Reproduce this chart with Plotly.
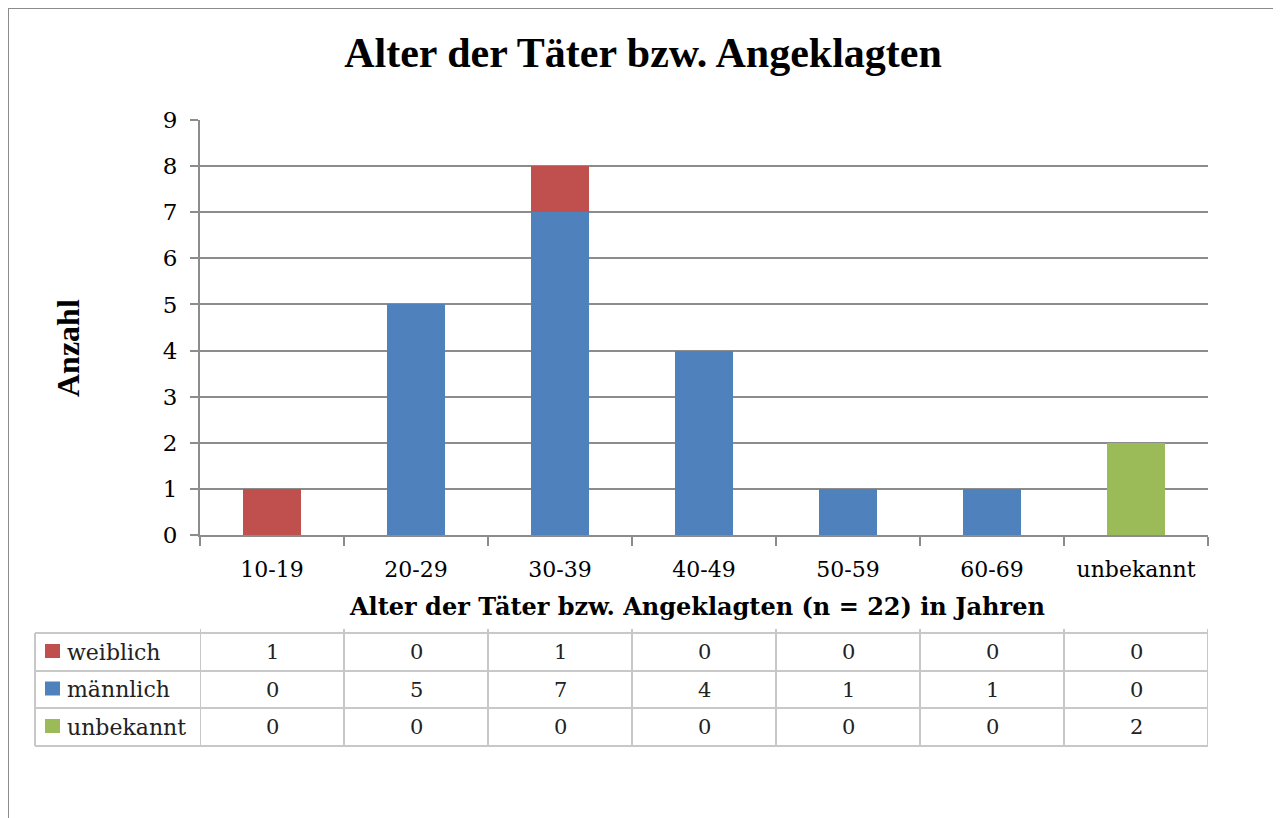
import plotly.graph_objects as go

# Daten
altersgruppen = ["10-19", "20-29", "30-39", "40-49", "50-59", "60-69", "unbekannt"]
weiblich = [1, 0, 1, 0, 0, 0, 0]
maennlich = [0, 5, 7, 4, 1, 1, 0]
unbekannt = [0, 0, 0, 0, 0, 0, 2]
serien = ["weiblich", "männlich", "unbekannt"]
farben = ["#C0504D", "#4F81BD", "#9BBB59"]
y_ticks = list(range(0, 10))

TIMES = "Liberation Serif"
CAMB = "DejaVu Serif"
GRID = "#8c8c8c"
TAB = "#c8c8c8"

# Seite hat 8px Rand -> Figur beginnt bei (8, 8)
OFF = 8
W, H = 1281 - OFF, 818 - OFF
# Plotbereich in Bildschirmpixeln
L, R, T, B = 200, 1208, 120, 535


def px_x(p):
    return (p - L) / (R - L)


def px_y(p):
    return (B - p) / (B - T)


fig = go.Figure()
# männlich unten, weiblich oben, unbekannt
fig.add_trace(go.Bar(x=altersgruppen, y=maennlich, name="männlich", marker_color=farben[1]))
fig.add_trace(go.Bar(x=altersgruppen, y=weiblich, name="weiblich", marker_color=farben[0]))
fig.add_trace(go.Bar(x=altersgruppen, y=unbekannt, name="unbekannt", marker_color=farben[2]))

fig.update_traces(marker_line_width=0, width=0.4)

fig.update_layout(
    barmode="stack",
    width=W,
    height=H,
    margin=dict(l=L - OFF, r=W - (R - OFF), t=T - OFF, b=H - (B - OFF)),
    paper_bgcolor="white",
    plot_bgcolor="white",
    showlegend=False,
    font=dict(family=CAMB, color="black"),
    title=dict(
        text="<b>Alter der Täter bzw. Angeklagten</b>",
        x=(643 - OFF) / W, xanchor="center", y=1 - (52 - OFF) / H, yanchor="middle",
        font=dict(family=TIMES, size=42, color="black"),
    ),
    xaxis=dict(
        range=[-0.5, 6.5],
        showgrid=False,
        showline=True, linecolor=GRID, linewidth=2,
        ticks="outside", tickson="boundaries", ticklen=9, tickcolor=GRID, tickwidth=2,
        ticklabelstandoff=14,
        tickfont=dict(family=CAMB, size=22, color="black"),
    ),
    yaxis=dict(
        range=[0, 9],
        tickvals=y_ticks,
        showgrid=True, gridcolor=GRID, gridwidth=2,
        showline=True, linecolor=GRID, linewidth=2,
        ticks="outside", ticklen=8, tickcolor=GRID, tickwidth=2,
        ticklabelstandoff=8,
        tickfont=dict(family=CAMB, size=23, color="black"),
        zeroline=False,
    ),
)

shapes = []
annotations = []

# Aeusserer Rahmen
shapes.append(dict(type="rect", xref="paper", yref="paper",
                   x0=px_x(8), x1=px_x(1277), y0=px_y(840), y1=px_y(8),
                   line=dict(color="#8c8c8c", width=2), layer="below"))

# Achsentitel
annotations.append(dict(text="<b>Anzahl</b>", xref="paper", yref="paper",
                        x=px_x(68), y=px_y(348), xanchor="center", yanchor="middle",
                        textangle=-90, showarrow=False,
                        font=dict(family=TIMES, size=32)))
annotations.append(dict(text="<b>Alter der Täter bzw. Angeklagten (n = 22) in Jahren</b>",
                        xref="paper", yref="paper", x=px_x(697), y=px_y(606),
                        xanchor="center", yanchor="middle",
                        showarrow=False, font=dict(family=CAMB, size=24)))

# Datentabelle
row_edges = [633, 671, 708, 746]
tab_left = 35
werte = [weiblich, maennlich, unbekannt]

for ye in row_edges:
    shapes.append(dict(type="line", xref="paper", yref="paper",
                       x0=px_x(tab_left), x1=1, y0=px_y(ye), y1=px_y(ye),
                       line=dict(color=TAB, width=2)))
shapes.append(dict(type="line", xref="paper", yref="paper",
                   x0=px_x(tab_left), x1=px_x(tab_left), y0=px_y(row_edges[0]), y1=px_y(row_edges[-1]),
                   line=dict(color=TAB, width=2)))
for i in range(len(altersgruppen) + 1):
    shapes.append(dict(type="line", xref="x", yref="paper",
                       x0=i - 0.5, x1=i - 0.5, y0=px_y(row_edges[0] - 4), y1=px_y(row_edges[-1]),
                       line=dict(color=TAB, width=2)))

for r, (name, farbe, vals) in enumerate(zip(serien, farben, werte)):
    yc = (row_edges[r] + row_edges[r + 1]) / 2
    shapes.append(dict(type="rect", xref="paper", yref="paper",
                       x0=px_x(45), x1=px_x(60), y0=px_y(yc + 6), y1=px_y(yc - 8),
                       fillcolor=farbe, line=dict(width=0)))
    annotations.append(dict(text=name, xref="paper", yref="paper", x=px_x(65), y=px_y(yc),
                            xanchor="left", yanchor="middle", showarrow=False,
                            font=dict(family=CAMB, size=22, color="#222")))
    for i, v in enumerate(vals):
        annotations.append(dict(text=str(v), xref="x", yref="paper", x=i, y=px_y(yc),
                                xanchor="center", yanchor="middle", showarrow=False,
                                font=dict(family=CAMB, size=21, color="#222")))

fig.update_layout(shapes=shapes, annotations=annotations)

fig.write_html("out.html")
